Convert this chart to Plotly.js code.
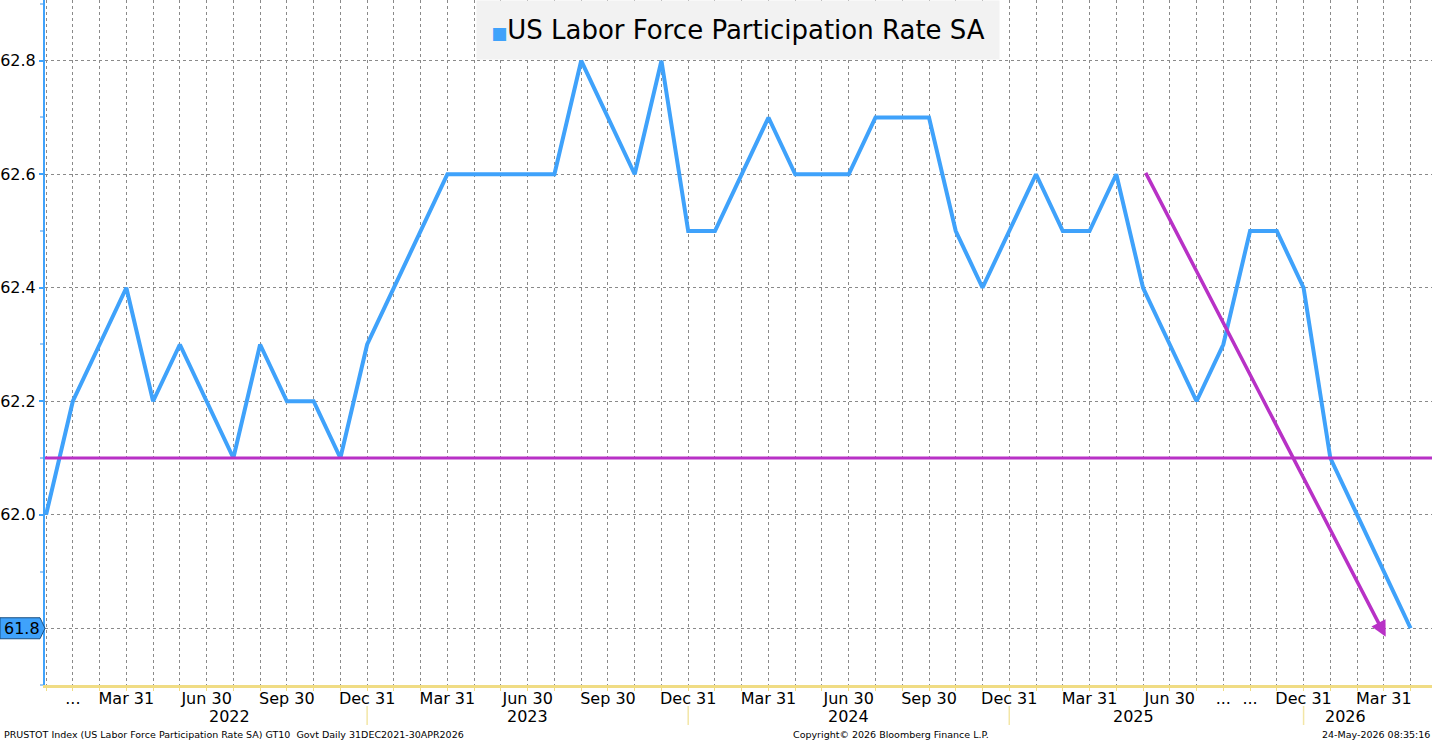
<!DOCTYPE html>
<html>
<head>
<meta charset="utf-8">
<script src="https://cdn.plot.ly/plotly-3.0.1.min.js"></script>
<style>
html,body{margin:0;padding:0;background:#fff;}
#chart{width:1432px;height:741px;}
</style>
</head>
<body>
<div id="chart"></div>
<script>
// Monthly observations (Oct 2025 missing in source)
const months = ['Dec 2021','Jan 2022','Feb 2022','Mar 2022','Apr 2022','May 2022','Jun 2022','Jul 2022','Aug 2022','Sep 2022','Oct 2022','Nov 2022',
  'Dec 2022','Jan 2023','Feb 2023','Mar 2023','Apr 2023','May 2023','Jun 2023','Jul 2023','Aug 2023','Sep 2023','Oct 2023','Nov 2023',
  'Dec 2023','Jan 2024','Feb 2024','Mar 2024','Apr 2024','May 2024','Jun 2024','Jul 2024','Aug 2024','Sep 2024','Oct 2024','Nov 2024',
  'Dec 2024','Jan 2025','Feb 2025','Mar 2025','Apr 2025','May 2025','Jun 2025','Jul 2025','Aug 2025','Sep 2025','Nov 2025',
  'Dec 2025','Jan 2026','Feb 2026','Mar 2026','Apr 2026'];
const participationRate = [62.0,62.2,62.3,62.4,62.2,62.3,62.2,62.1,62.3,62.2,62.2,62.1,
  62.3,62.4,62.5,62.6,62.6,62.6,62.6,62.6,62.8,62.7,62.6,62.8,
  62.5,62.5,62.6,62.7,62.6,62.6,62.6,62.7,62.7,62.7,62.5,62.4,
  62.5,62.6,62.5,62.5,62.6,62.4,62.3,62.2,62.3,62.5,62.5,
  62.4,62.1,62.0,61.9,61.8];
const tickLabelMonths = ['Jan 2022','Mar 2022','Jun 2022','Sep 2022','Dec 2022','Mar 2023','Jun 2023','Sep 2023','Dec 2023',
  'Mar 2024','Jun 2024','Sep 2024','Dec 2024','Mar 2025','Jun 2025','Aug 2025','Sep 2025','Dec 2025','Mar 2026'];
const tickLabelText = ['...','Mar 31','Jun 30','Sep 30','Dec 31','Mar 31','Jun 30','Sep 30','Dec 31',
  'Mar 31','Jun 30','Sep 30','Dec 31','Mar 31','Jun 30','...','...','Dec 31','Mar 31'];
const yearLabels = ['2022','2023','2024','2025','2026'];
const yearStartMonth = ['Dec 2021','Dec 2022','Dec 2023','Dec 2024','Dec 2025'];
const yTickVals = [61.8,62.0,62.2,62.4,62.6,62.8];
const supportLevel = 62.1;
const trendStart = {month:'May 2025', value:62.605};
const trendEnd = {month:'Mar 2026', value:61.785};
const lastValue = 61.8;

const BLUE = '#3fa2fb';
const PURPLE = '#b831c6';
const YELLOW = '#f0dc84';

const xIdx = months.map((m,i)=>i);
const idx = m => months.indexOf(m);
const xMin = -0.04, xMax = 51.8;
const yMin = 61.70, yMax = 62.907;
const toPaperX = v => (v - xMin) / (xMax - xMin);

const tickVals = xIdx.slice();
const tickText = xIdx.map(i => {
  const k = tickLabelMonths.indexOf(months[i]);
  return k >= 0 ? tickLabelText[k] : '';
});

const traces = [{
  type:'scatter', mode:'lines', x:xIdx, y:participationRate,
  line:{color:BLUE, width:4}, hoverinfo:'skip', showlegend:false
}];

const annotations = [];
const shapes = [];

// support line
shapes.push({type:'line', xref:'x', yref:'y', x0:xMin, x1:xMax, y0:supportLevel, y1:supportLevel,
  line:{color:PURPLE, width:3}, layer:'above'});

// trend arrow
annotations.push({
  xref:'x', yref:'y', axref:'x', ayref:'y',
  x: idx(trendEnd.month)+0.07, y: trendEnd.value,
  ax: idx(trendStart.month)+0.07, ay: trendStart.value,
  showarrow:true, arrowhead:2, arrowsize:0.9, arrowwidth:3.5, arrowcolor:PURPLE, text:''
});

// title box
annotations.push({
  xref:'paper', yref:'paper', x: (738-45)/1387, y:1, xanchor:'center', yanchor:'top',
  showarrow:false, bgcolor:'#f2f2f2', width:520, height:56, align:'center',
  text:'<span style="color:'+BLUE+';font-size:17px">■</span>US Labor Force Participation Rate SA',
  font:{family:'DejaVu Sans', size:26, color:'#000'}
});

// year labels and separators
const yearBounds = yearStartMonth.map(idx).concat([xMax]);
yearLabels.forEach((yl,k)=>{
  const a = Math.max(yearBounds[k], xMin), b = yearBounds[k+1];
  annotations.push({xref:'paper', yref:'paper', x: toPaperX((a+b)/2), y:0, yanchor:'top', yshift:-20,
    showarrow:false, text:yl, font:{family:'DejaVu Sans', size:16, color:'#000'}});
  if (k>0) {
    const px = toPaperX(yearBounds[k]);
    shapes.push({type:'line', xref:'paper', yref:'paper', x0:px, x1:px, y0:-21/685, y1:-40/685,
      line:{color:'#f3e6a6', width:1.5}, layer:'above'});
  }
});

// last value badge
const bx0 = -45/1387, bx1 = -5/1387, bx2 = 0;
const bh = 0.0185;
shapes.push({type:'path', xref:'paper', yref:'y', layer:'above',
  path:`M ${bx0} ${lastValue-bh} L ${bx1} ${lastValue-bh} L ${bx2} ${lastValue} L ${bx1} ${lastValue+bh} L ${bx0} ${lastValue+bh} Z`,
  fillcolor:BLUE, line:{color:'#1a4f80', width:1}});
annotations.push({xref:'paper', yref:'y', x:-42/1387, y:lastValue, xanchor:'left', yanchor:'middle',
  showarrow:false, borderpad:0, text:lastValue.toFixed(1), font:{family:'DejaVu Sans', size:16, color:'#000'}});

// footer
const footFont = {family:'DejaVu Sans', size:9.5, color:'#000'};
annotations.push({xref:'paper', yref:'paper', x:-43/1387, y:0, xanchor:'left', yanchor:'top', yshift:-42, showarrow:false,
  text:'PRUSTOT Index (US Labor Force Participation Rate SA) GT10  Govt Daily 31DEC2021-30APR2026', font:footFont});
annotations.push({xref:'paper', yref:'paper', x:(891-45)/1387, y:0, xanchor:'center', yanchor:'top', yshift:-42, showarrow:false,
  text:'Copyright© 2026 Bloomberg Finance L.P.', font:footFont});
annotations.push({xref:'paper', yref:'paper', x:1, xanchor:'right', y:0, yanchor:'top', yshift:-42, showarrow:false,
  text:'24-May-2026 08:35:16', font:footFont});

const layout = {
  width:1432, height:741,
  margin:{l:45, r:0, t:0, b:56},
  paper_bgcolor:'#fff', plot_bgcolor:'#fff',
  showlegend:false,
  xaxis:{
    range:[xMin,xMax], tickvals:tickVals, ticktext:tickText, tickangle:0,
    showgrid:true, gridcolor:'#8a8a8a', griddash:'dot', gridwidth:1,
    showline:true, linecolor:YELLOW, linewidth:2.5,
    ticks:'outside', ticklen:3, tickcolor:YELLOW, tickwidth:1,
    ticklabelstandoff:-6,
    tickfont:{family:'DejaVu Sans', size:16, color:'#000'},
    zeroline:false, fixedrange:true
  },
  yaxis:{
    range:[yMin,yMax], tickvals:yTickVals, ticktext:yTickVals.map(v=> v===lastValue ? '' : v.toFixed(1)),
    showgrid:true, gridcolor:'#8a8a8a', griddash:'dot', gridwidth:1,
    showline:true, linecolor:BLUE, linewidth:2,
    ticks:'outside', ticklen:4, tickcolor:BLUE, tickwidth:2,
    minor:{dtick:0.1, ticks:'outside', ticklen:3, tickcolor:'#9cc9f5', showgrid:false},
    tickfont:{family:'DejaVu Sans', size:16, color:'#000'},
    zeroline:false, fixedrange:true
  },
  shapes:shapes, annotations:annotations
};

Plotly.newPlot('chart', traces, layout, {displayModeBar:false, staticPlot:true});
</script>
</body>
</html>
